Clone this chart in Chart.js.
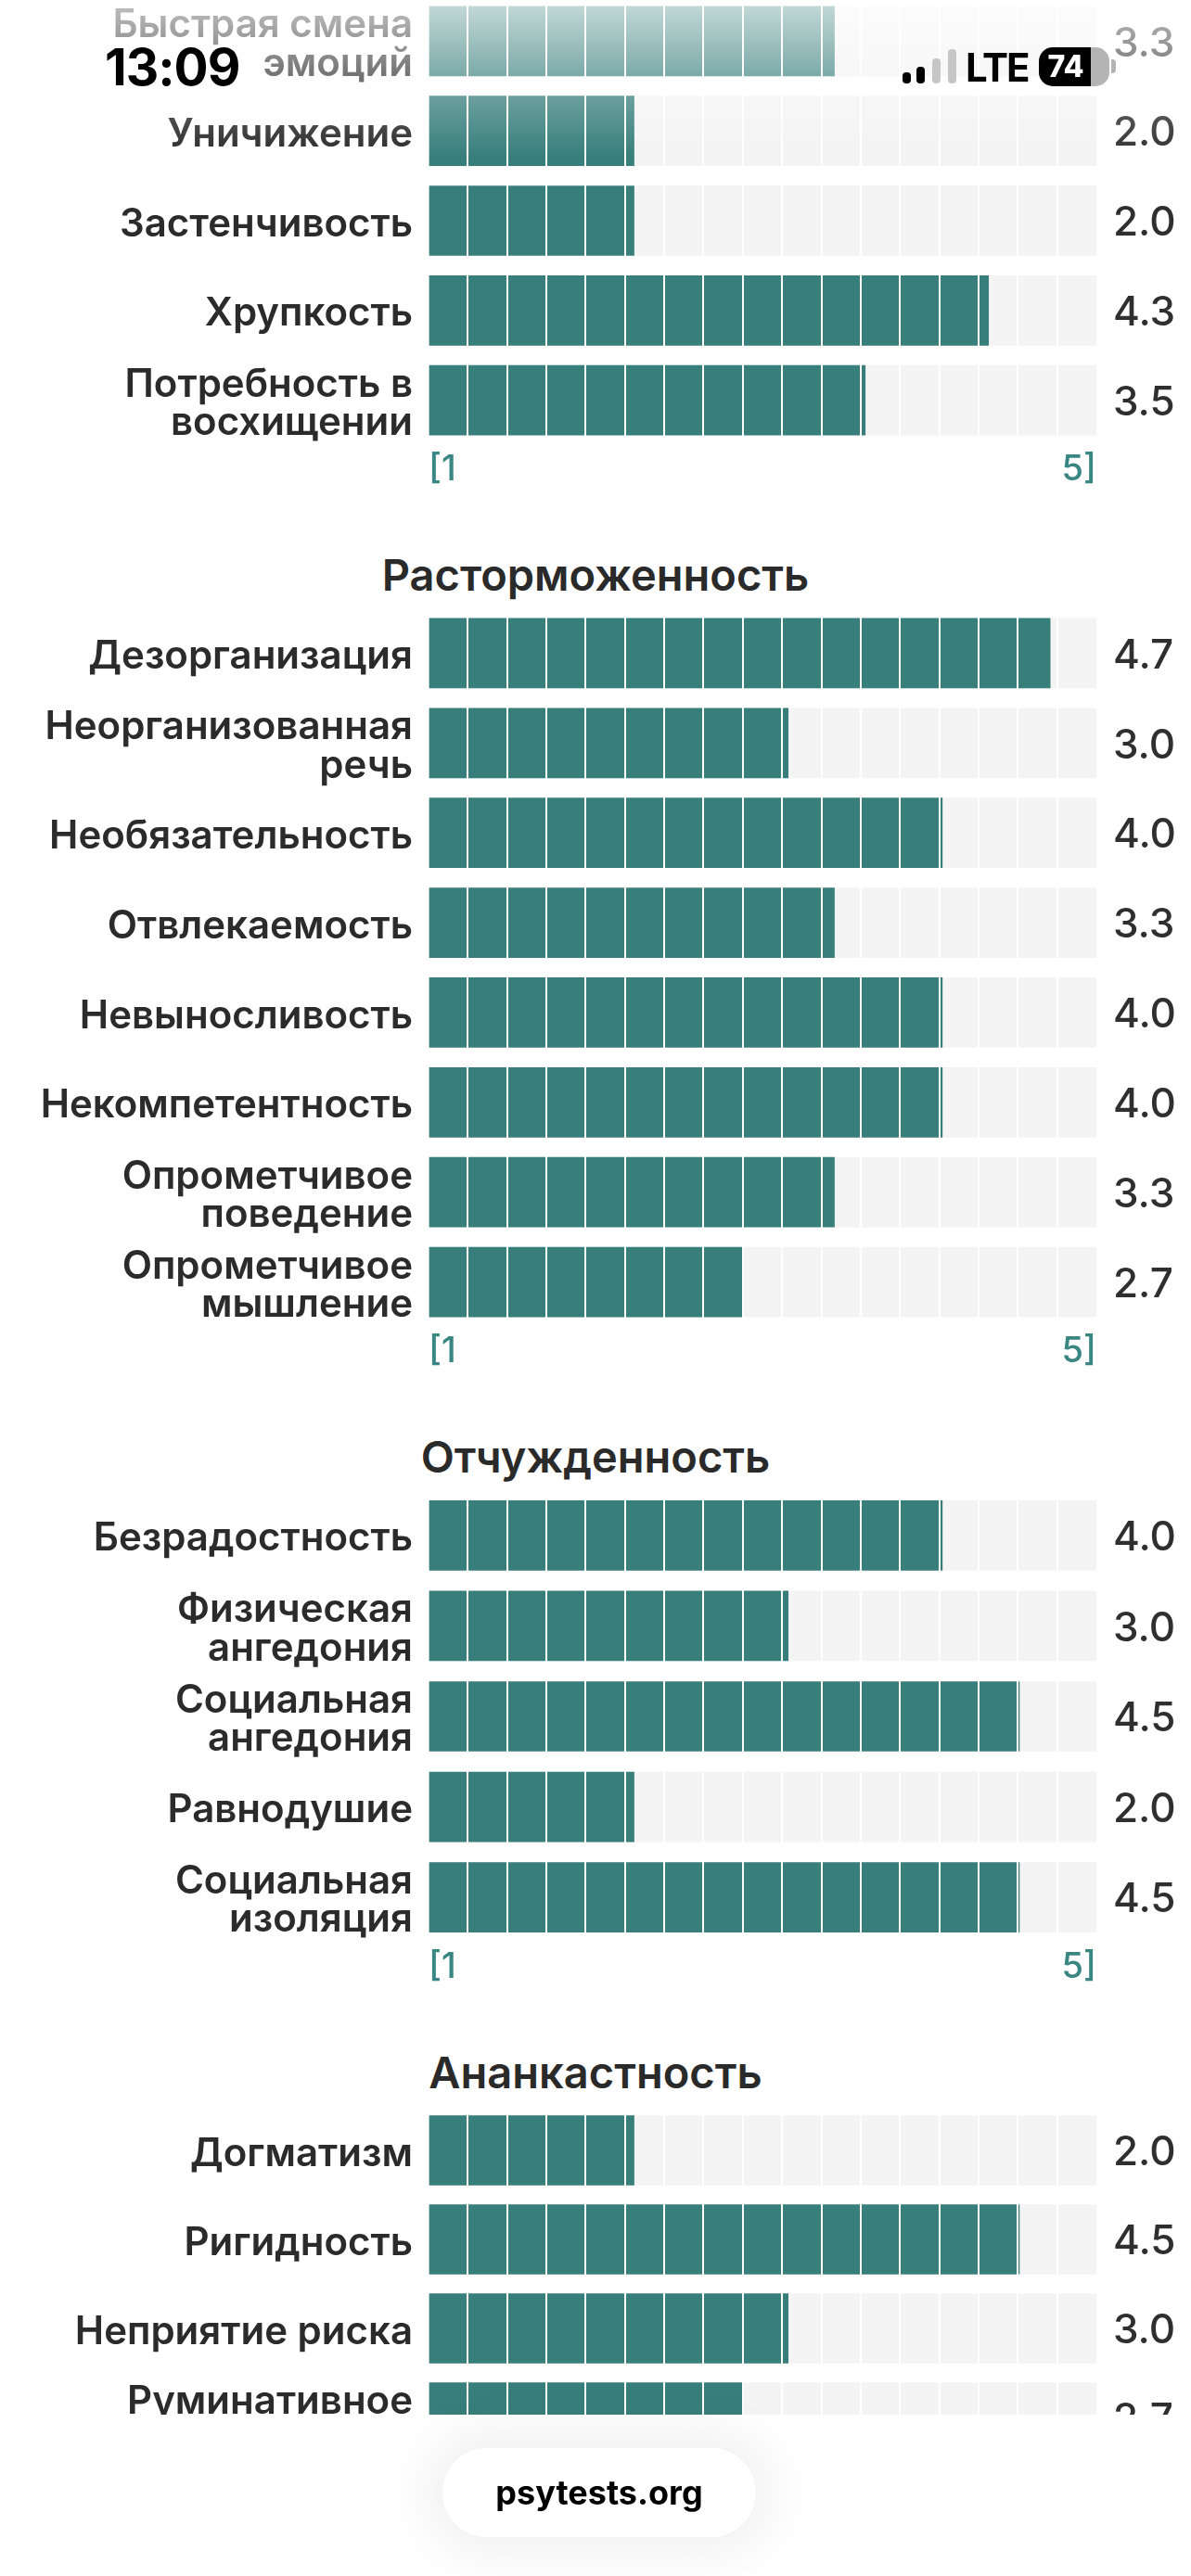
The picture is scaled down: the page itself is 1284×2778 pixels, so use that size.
<!DOCTYPE html>
<html>
<head>
<meta charset="utf-8">
<script src="https://cdn.jsdelivr.net/npm/chart.js@4.4.1/dist/chart.umd.min.js"></script>
<style>
  html, body { margin: 0; padding: 0; background: #fff; }
  body { width: 1284px; height: 2778px; position: relative; overflow: hidden; font-family: Inter, "Noto Sans", sans-serif; }
  #clip { position: absolute; left: 0; top: 0; width: 1284px; height: 2604px; overflow: hidden; }
  canvas { position: absolute; left: 0; }
  .head { position: absolute; left: 0; width: 1284px; text-align: center; font-size: 47px; line-height: 48px; font-weight: 600; color: #2a2a2a; }
  #fade { position: absolute; left: 0; top: 0; width: 1284px; height: 170px;
          background: linear-gradient(to bottom, rgba(255,255,255,0.72) 0px, rgba(255,255,255,0.35) 80px, rgba(255,255,255,0) 170px); }
  .sb { position: absolute; color: #000; font-weight: 700; }
  .sig { position: absolute; width: 9px; border-radius: 4px; }
  #pill { position: absolute; left: 477px; top: 2640px; width: 338px; height: 96px; border-radius: 48px; background: #fff;
          box-shadow: 0 0 60px 16px rgba(0,0,0,0.065); text-align: center; line-height: 96px; font-size: 36px; font-weight: 700; color: #000; }
</style>
</head>
<body>
<div id="clip">
  <canvas id="c1" width="1284" height="534" style="top:-4px"></canvas>
  <div class="head" style="top:596px">Расторможенность</div>
  <canvas id="c2" width="1284" height="825" style="top:656px"></canvas>
  <div class="head" style="top:1547px">Отчужденность</div>
  <canvas id="c3" width="1284" height="538" style="top:1607px"></canvas>
  <div class="head" style="top:2211px">Ананкастность</div>
  <canvas id="c4" width="1284" height="434" style="top:2271px"></canvas>
</div>
<div id="fade"></div>
<div class="sb" style="left:113px;top:45px;font-size:55px;line-height:55px;letter-spacing:-1px">13:09</div>
<div class="sig" style="left:973px;top:78px;height:12px;background:#000"></div>
<div class="sig" style="left:988px;top:72px;height:18px;background:#000"></div>
<div class="sig" style="left:1005px;top:63px;height:27px;background:#c6c6c6"></div>
<div class="sig" style="left:1022px;top:53px;height:37px;background:#c6c6c6"></div>
<div class="sb" style="left:1041px;top:52px;font-size:42px;line-height:42px;letter-spacing:-2px">LTE</div>
<div style="position:absolute;left:1120px;top:51px;width:76px;height:42px;border-radius:15px;background:linear-gradient(to right,#000 0 74%,#b4b4b4 74% 100%);overflow:hidden">
  <div style="position:absolute;left:0;top:0;width:58px;height:42px;line-height:42px;text-align:center;color:#fff;font-weight:800;font-size:32px">74</div>
</div>
<div style="position:absolute;left:1198px;top:64px;width:5px;height:15px;border-radius:0 4px 4px 0;background:#b4b4b4"></div>
<div id="pill">psytests.org</div>

<script>
const AXIS_MIN = 2 / 3;
const AXIS_MAX = 5;
const SEGMENTS = 17;
const scaleTickLabels = ['[1', '5]'];

// Негативная аффективность (обрезано сверху)
const labels1 = [['Быстрая смена', 'эмоций'], 'Уничижение', 'Застенчивость', 'Хрупкость', ['Потребность в', 'восхищении']];
const values1 = [3.3, 2.0, 2.0, 4.3, 3.5];

// Расторможенность
const labels2 = ['Дезорганизация', ['Неорганизованная', 'речь'], 'Необязательность', 'Отвлекаемость',
                 'Невыносливость', 'Некомпетентность', ['Опрометчивое', 'поведение'], ['Опрометчивое', 'мышление']];
const values2 = [4.7, 3.0, 4.0, 3.3, 4.0, 4.0, 3.3, 2.7];

// Отчужденность
const labels3 = ['Безрадостность', ['Физическая', 'ангедония'], ['Социальная', 'ангедония'], 'Равнодушие', ['Социальная', 'изоляция']];
const values3 = [4.0, 3.0, 4.5, 2.0, 4.5];

// Ананкастность
const labels4 = ['Догматизм', 'Ригидность', 'Неприятие риска', ['Руминативное', 'мышление']];
const values4 = [2.0, 4.5, 3.0, 2.7];

Chart.defaults.font.family = 'Inter';

// fixed axis boxes, no extra padding from label sizes
function fixBox(width) {
  return s => {
    s.width = width;
    s.paddingTop = 0;
    s.paddingBottom = 0;
  };
}

function makeChart(id, labels, values) {
  return new Chart(document.getElementById(id), {
    type: 'bar',
    data: {
      labels: labels,
      datasets: [{
        data: values,
        base: AXIS_MIN,
        backgroundColor: '#387f7c',
        barThickness: 75,
        grouped: false,
        order: 1
      }, {
        data: values.map(() => AXIS_MAX),
        base: AXIS_MIN,
        backgroundColor: '#f4f4f4',
        barThickness: 75,
        grouped: false,
        order: 2
      }]
    },
    options: {
      indexAxis: 'y',
      responsive: false,
      animation: false,
      devicePixelRatio: 1,
      layout: { padding: 0, autoPadding: false },
      plugins: { legend: { display: false }, tooltip: { enabled: false } },
      scales: {
        x: {
          type: 'linear',
          min: AXIS_MIN,
          max: AXIS_MAX,
          afterBuildTicks: s => {
            s.ticks = [];
            for (let k = 0; k <= SEGMENTS; k++) s.ticks.push({ value: AXIS_MIN + k * (AXIS_MAX - AXIS_MIN) / SEGMENTS });
          },
          afterFit: s => { s.height = 50; s.paddingLeft = 0; s.paddingRight = 0; },
          grid: {
            z: 1,
            drawTicks: false,
            lineWidth: 2,
            color: c => (c.index === 0 || c.index === SEGMENTS) ? 'rgba(0,0,0,0)' : '#ffffff'
          },
          border: { display: false },
          ticks: {
            autoSkip: false,
            maxRotation: 0,
            align: 'inner',
            padding: 4,
            color: '#3a8682',
            font: { size: 38, weight: 500 },
            callback: (v, i) => i === 0 ? scaleTickLabels[0] : (i === SEGMENTS ? scaleTickLabels[1] : '')
          }
        },
        y: {
          afterFit: fixBox(462),
          grid: { display: false, drawTicks: false },
          border: { display: false },
          ticks: { autoSkip: false, padding: 17, labelOffset: 4, color: '#2b2b2b', font: { size: 42, weight: 600, lineHeight: 0.98 } }
        },
        y2: {
          type: 'category',
          position: 'right',
          offset: true,
          labels: values.map(v => v.toFixed(1)),
          afterFit: fixBox(102),
          grid: { display: false, drawTicks: false },
          border: { display: false },
          ticks: { autoSkip: false, padding: 18, labelOffset: 3, color: '#2f2f2f', font: { size: 44, weight: 500 } }
        }
      }
    }
  });
}

makeChart('c1', labels1, values1);
makeChart('c2', labels2, values2);
makeChart('c3', labels3, values3);
makeChart('c4', labels4, values4);
</script>
</body>
</html>
